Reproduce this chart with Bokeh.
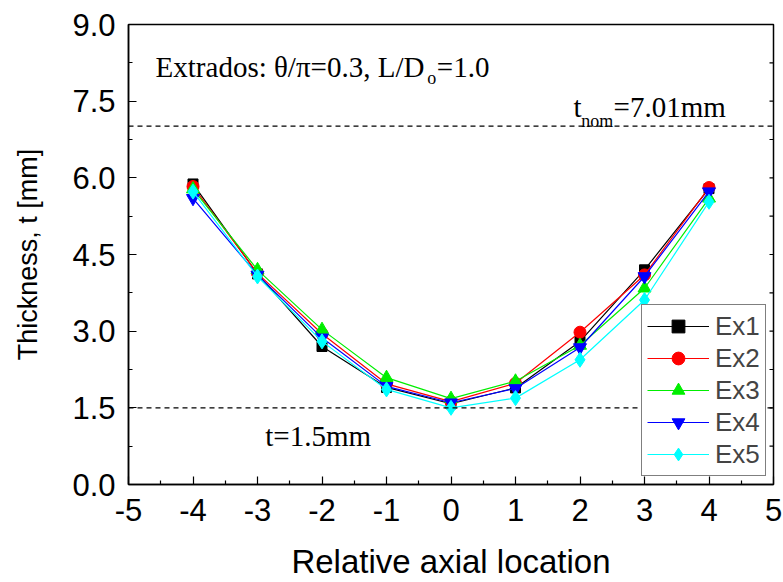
from bokeh.plotting import figure
from bokeh.models import (FixedTicker, PrintfTickFormatter, Span, Label,
                          Legend, LegendItem, Range1d)
from bokeh.embed import file_html
from bokeh.resources import INLINE

# ---- data ----
x = [-4, -3, -2, -1, 0, 1, 2, 3, 4]
ex1 = [5.88, 4.12, 2.70, 1.90, 1.58, 1.89, 2.80, 4.20, 5.79]
ex2 = [5.83, 4.13, 2.95, 1.97, 1.62, 1.98, 2.98, 4.10, 5.81]
ex3 = [5.78, 4.20, 3.03, 2.09, 1.68, 2.02, 2.72, 3.84, 5.60]
ex4 = [5.60, 4.10, 2.87, 1.92, 1.60, 1.88, 2.68, 4.07, 5.73]
ex5 = [5.73, 4.07, 2.80, 1.86, 1.50, 1.69, 2.44, 3.61, 5.53]
series_names = ["Ex1", "Ex2", "Ex3", "Ex4", "Ex5"]
t_nom = 7.01
t_min = 1.5
x_ticks = [-5, -4, -3, -2, -1, 0, 1, 2, 3, 4, 5]
y_ticks = [0.0, 1.5, 3.0, 4.5, 6.0, 7.5, 9.0]

SANS = "Liberation Sans"
SERIF = "Liberation Serif"

p = figure(width=783, height=582, output_backend="svg", toolbar_location=None,
           x_range=Range1d(-5, 5), y_range=Range1d(0, 9),
           min_border_left=128, min_border_right=10, min_border_top=24, min_border_bottom=97)
p.grid.visible = False
p.outline_line_color = "black"
p.outline_line_width = 1.5
p.background_fill_color = "white"
p.border_fill_color = "white"

x_minor = [v + 0.5 for v in x_ticks[:-1]]
y_minor = [v + 0.75 for v in y_ticks[:-1]]

for ax in (p.xaxis[0], p.yaxis[0]):
    ax.axis_line_width = 1.5
    ax.major_tick_in = 8
    ax.major_tick_out = 0
    ax.minor_tick_in = 4
    ax.minor_tick_out = 0
    ax.major_tick_line_width = 1.2
    ax.minor_tick_line_width = 1.2
    ax.major_label_text_font = SANS
    ax.major_label_text_font_size = "31px"
    ax.major_label_text_color = "black"
    ax.axis_label_text_font = SANS
    ax.axis_label_text_font_style = "normal"
    ax.axis_label_text_color = "black"

p.xaxis[0].ticker = FixedTicker(ticks=x_ticks, minor_ticks=x_minor)
p.yaxis[0].ticker = FixedTicker(ticks=y_ticks, minor_ticks=y_minor)
p.xaxis[0].formatter = PrintfTickFormatter(format="%d")
p.yaxis[0].formatter = PrintfTickFormatter(format="%.1f")
p.xaxis[0].axis_label = "Relative axial location"
p.yaxis[0].axis_label = "Thickness, t [mm]"
p.xaxis[0].axis_label_text_font_size = "33px"
p.yaxis[0].axis_label_text_font_size = "27px"
p.xaxis[0].major_label_standoff = 14
p.yaxis[0].major_label_standoff = 13
p.xaxis[0].axis_label_standoff = 19
p.yaxis[0].axis_label_standoff = 26

# short inward ticks on the right frame edge, from the tick arrays
right_ticks = y_ticks + y_minor
tick_len = 4 / 64.5
p.segment(x0=[5] * len(right_ticks), y0=right_ticks,
          x1=[5 - tick_len] * len(right_ticks), y1=right_ticks,
          line_color="black", line_width=1.2)

# reference lines
p.add_layout(Span(location=t_nom, dimension="width", line_color="black",
                  line_width=1.2, line_dash="5 4"))
p.add_layout(Span(location=t_min, dimension="width", line_color="black",
                  line_width=1.2, line_dash="5 4"))

colors = ["#000000", "#FF0000", "#00EE00", "#0000FF", "#00FFFF"]
markers = ["square", "circle", "triangle", "inverted_triangle", "diamond"]
sizes = [10, 12, 13, 13, 15]
data = [ex1, ex2, ex3, ex4, ex5]

items = []
for name, ys, c, m, s in zip(series_names, data, colors, markers, sizes):
    ln = p.line(x, ys, line_color=c, line_width=1.2)
    sc = p.scatter(x, ys, marker=m, size=s, fill_color=c, line_color=c)
    items.append(LegendItem(label=name, renderers=[ln, sc]))

legend = Legend(items=items, location=(513, 8), border_line_color="black",
                border_line_width=1.2, background_fill_color="white",
                background_fill_alpha=1, label_text_font=SANS,
                label_text_font_size="26px", glyph_width=62, glyph_height=32,
                label_height=32, spacing=0, padding=5, label_standoff=6, margin=0)
p.add_layout(legend, "center")

# annotations
def lbl(xv, yv, text, size):
    p.add_layout(Label(x=xv, y=yv, text=text, text_font=SERIF, text_font_size=size,
                       text_color="black", text_baseline="alphabetic", text_align="left"))

lbl(-4.58, 8.16, "Extrados: \u03b8/\u03c0=0.3, L/D", "29px")
lbl(-0.37, 7.95, "o", "18px")
lbl(-0.22, 8.16, "=1.0", "29px")
lbl(1.90, 7.38, "t", "29px")
lbl(2.02, 7.11, "nom", "18px")
lbl(2.52, 7.38, "=7.01mm", "29px")
lbl(-2.88, 0.94, "t=1.5mm", "29px")

open("out.html", "w").write(file_html(p, INLINE))
